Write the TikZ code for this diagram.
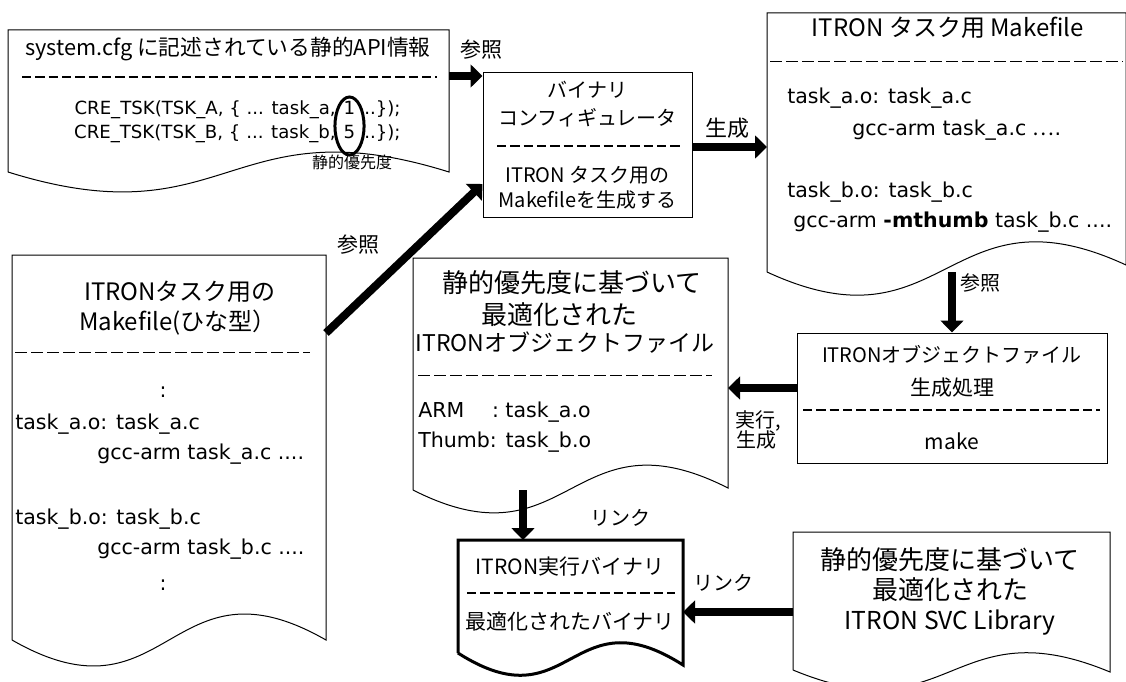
\documentclass[tikz,border=0pt]{standalone}
\usepackage{fontspec}
\setmainfont{Noto Sans CJK JP}
\newfontfamily\dv{DejaVu Sans}
\usepackage{tikz}
\usetikzlibrary{arrows.meta}

\begin{document}
\begin{tikzpicture}[x=0.75pt, y=-0.75pt,
  doc/.style={draw, line width=0.75pt},
  box/.style={draw, line width=0.75pt, inner sep=0pt},
  sep/.style={line width=1.5pt, dash pattern=on 7pt off 3pt},
  thinsep/.style={line width=0.75pt, dash pattern=on 9pt off 3pt},
  bigarrow/.style={line width=6pt, -{Triangle[width=17pt, length=9pt]}},
  txt/.style={anchor=base, inner sep=0pt},
  ltxt/.style={anchor=base west, inner sep=0pt},
  rtxt/.style={anchor=base east, inner sep=0pt},
  f16/.style={font=\fontsize{12}{14}\selectfont},
  f20/.style={font=\fontsize{15}{18}\selectfont},
  f21/.style={font=\fontsize{15.75}{19}\selectfont},
  f22/.style={font=\fontsize{16.5}{20}\selectfont},
  f23/.style={font=\fontsize{17.25}{21}\selectfont},
  f24/.style={font=\fontsize{18}{22}\selectfont},
  f26/.style={font=\fontsize{19.5}{23}\selectfont},
  code/.style={font=\fontsize{15.4}{18}\selectfont\dv},
  cre/.style={font=\fontsize{13.6}{16}\selectfont\dv}]
\path[use as bounding box, fill=white] (0,0) rectangle (1126,681);

\draw[doc] (8,172) -- (8,30) -- (449,30) -- (449,172) .. controls (228.5,103) and (228.5,241) .. (8,172);
\draw[doc] (767,272) -- (767,13) -- (1126,13) -- (1126,265) .. controls (946.5,182) and (946.5,355) .. (767,272);
\draw[doc] (413,490) -- (413,258) -- (728,258) -- (728,488) .. controls (570.5,408) and (570.5,570) .. (413,490);
\draw[doc, line width=2.25pt] (458,653) -- (458,540) -- (683,540) -- (683,665) .. controls (570.5,593) and (570.5,725) .. (458,653);
\draw[doc] (793,670) -- (793,532) -- (1110,532) -- (1110,672) .. controls (951.5,606) and (951.5,736) .. (793,670);
\draw[doc] (12,640) -- (12,255) -- (326,255) -- (326,640) .. controls (169,550) and (169,730) .. (12,640);

\node[box, minimum width=156.75pt, minimum height=108pt] (bincfg) at (587.5,145) {};
\node[box, minimum width=232.5pt, minimum height=97.5pt] (objgen) at (952,398) {};

\foreach \xa/\xb/\yy in {22/437/77, 497/680/146, 803/1100/410, 467/675/593}
  \draw[sep] (\xa,\yy) -- (\xb,\yy);
\foreach \xa/\xb/\yy in {770/1123/62, 418/712/375, 15/310/352}
  \draw[thinsep] (\xa,\yy) -- (\xb,\yy);

\node (cfgt) at (228,56) [txt, font=\fontsize{16.3}{19}\selectfont] {system.cfg に記述されている静的API情報};
\node (cfga1) at (336,114.7) [rtxt, cre] {CRE\_TSK(TSK\_A, \{ ... task\_a,};
\node (cfga2) at (349.5,114.7) [txt, cre] {1};
\node (cfga3) at (364,114.7) [ltxt, cre] {..\});};
\node (cfgb1) at (336,138.7) [rtxt, cre] {CRE\_TSK(TSK\_B, \{ ... task\_b,};
\node (cfgb2) at (349.5,138.7) [txt, cre] {5};
\node (cfgb3) at (364,138.7) [ltxt, cre] {..\});};
\draw[line width=2.25pt] (349.5,126) ellipse [x radius=10.9pt, y radius=21.75pt];
\node (prio) at (352,168.9) [txt, f16] {静的優先度};

\node (bc1) at (587.5,97.4) [txt, f20] {バイナリ};
\node (bc2) at (587.5,125.4) [txt, f20] {コンフィギュレータ};
\node (bc3) at (587.5,182.4) [txt, f20] {ITRON タスク用の};
\node (bc4) at (587.5,207.4) [txt, f20] {Makefileを生成する};

\node (mkt) at (948,36.9) [txt, f24] {ITRON タスク用 Makefile};
\node (mk1) at (787,103.4) [ltxt, code] {task\_a.o: task\_a.c};
\node (mk2) at (852,135.4) [ltxt, code] {gcc-arm task\_a.c {\rmfamily …}.};
\node (mk3) at (787,197.4) [ltxt, code] {task\_b.o: task\_b.c};
\node (mk4) at (793,227.4) [ltxt, code] {gcc-arm \textbf{-mthumb} task\_b.c ....};

\node (og1) at (952,362.4) [txt, f20] {ITRONオブジェクトファイル};
\node (og2) at (952,395.8) [txt, f21] {生成処理};
\node (og3) at (952,449.8) [txt, f21] {make};

\node (md1) at (572,292.6) [txt, f26] {静的優先度に基づいて};
\node (md2) at (559,324.6) [txt, f26] {最適化された};
\node (md3) at (565,351.5) [txt, f23] {ITRONオブジェクトファイル};
\node (md4) at (418,417.6) [ltxt, code] {ARM\hspace{1.35em}: task\_a.o};
\node (md5) at (418,447.6) [ltxt, code] {Thumb: task\_b.o};

\node (ex1) at (570,574.8) [txt, f21] {ITRON実行バイナリ};
\node (ex2) at (570,629.8) [txt, f21] {最適化されたバイナリ};

\node (lb1) at (950,569.6) [txt, f26] {静的優先度に基づいて};
\node (lb2) at (950,599.6) [txt, f26] {最適化された};
\node (lb3) at (950,629.1) [txt, font=\fontsize{18.5}{22}\selectfont] {ITRON SVC Library};

\node (tp1) at (180,300.9) [txt, f24] {ITRONタスク用の};
\node (tp2) at (178,330.9) [txt, f24] {Makefile(ひな型）};
\node (tp3) at (163,397.4) [txt, code] {:};
\node (tp4) at (15,429.4) [ltxt, code] {task\_a.o: task\_a.c};
\node (tp5) at (97,459.4) [ltxt, code] {gcc-arm task\_a.c ....};
\node (tp6) at (15,524.4) [ltxt, code] {task\_b.o: task\_b.c};
\node (tp7) at (97,554.4) [ltxt, code] {gcc-arm task\_b.c ....};
\node (tp8) at (163,590.4) [txt, code] {:};

\coordinate (cfg-e) at (449,76);
\coordinate (mk-in) at (767,147);
\coordinate (mk-s) at (952,272);
\coordinate (mid-e) at (728,388);
\coordinate (mid-s) at (523,490);
\coordinate (exe-n) at (523,540);
\coordinate (exe-e) at (683,612);
\coordinate (lib-w) at (793,612);
\coordinate (tmpl-e) at (326,333);
\coordinate (bc-in) at (483,184);

\draw[bigarrow] (cfg-e) -- (bincfg.west |- cfg-e);
\draw[bigarrow] (bincfg.east |- mk-in) -- (mk-in);
\draw[bigarrow] (mk-s) -- (objgen.north);
\draw[bigarrow] (objgen.west |- mid-e) -- (mid-e);
\draw[bigarrow] (mid-s) -- (exe-n);
\draw[bigarrow] (lib-w) -- (exe-e);
\draw[bigarrow] (tmpl-e) -- (bincfg.west |- bc-in);

\node (l1) at (481,57.8) [txt, f21] {参照};
\node (l2) at (727,136.1) [txt, f22] {生成};
\node (l3) at (980,290) [txt, f20] {参照};
\node (l4) at (758,427.4) [txt, f20] {実行,};
\node (l5) at (756,447.4) [txt, f20] {生成};
\node (l6) at (620,525.4) [txt, f20] {リンク};
\node (l7) at (723,590.4) [txt, f20] {リンク};
\node (l8) at (358,252.8) [txt, f21] {参照};
\end{tikzpicture}
\end{document}
